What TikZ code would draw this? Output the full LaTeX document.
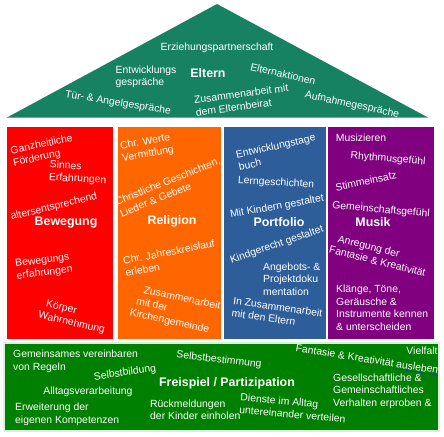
\documentclass[tikz,border=0pt]{standalone}
\usepackage{fontspec}
\setmainfont{Liberation Sans}
\definecolor{roofgreen}{HTML}{178262}
\definecolor{colred}{HTML}{FF0000}
\definecolor{colorange}{HTML}{FF6600}
\definecolor{colblue}{HTML}{2E5E9A}
\definecolor{colpurple}{HTML}{800080}
\definecolor{bargreen}{HTML}{008000}
\definecolor{barline}{HTML}{D9F2D9}
\definecolor{squiggle}{HTML}{1030C0}
\begin{document}
\begin{tikzpicture}[x=1pt,y=-1pt,
  every node/.style={text=white,inner sep=0pt,font=\fontsize{10.4}{12.5}\selectfont},
  title/.style={font=\fontsize{12.4}{14}\selectfont\bfseries},
  ml/.style={align=left}]
\useasboundingbox (0,0) rectangle (444,436);
% shapes
\fill[roofgreen] (217,4) -- (428,117.5) -- (7,117.5) -- cycle;
\fill[colred] (7,127) rectangle (113,339);
\fill[colorange] (118,127) rectangle (221,339);
\fill[colblue] (223.5,127) rectangle (326,339);
\fill[colpurple] (327.5,127) rectangle (434,339);
\fill[bargreen,draw=barline,line width=2pt] (4,343) rectangle (439,431);
% roof
\node (erz) at (217,48) {Erziehungspartnerschaft};
\node[ml] (entw) at (146,77) {Entwicklungs\\gespräche};
\node[title] (eltern) at (208,73) {Eltern};
\node[rotate=-13] (aktion) at (283,74) {Elternaktionen};
\node[rotate=-9] (tuer) at (118,103) {Tür- \& Angelgespräche};
\node[rotate=7.5,ml] (zus) at (242,100) {Zusammenarbeit mit\\dem Elternbeirat};
\node[rotate=-12] (aufn) at (352,105) {Aufnahmegespräche};
% Bewegung
\node[rotate=12,ml] (ganz) at (43,151) {Ganzheitliche\\Förderung};
\node[rotate=-3,ml] (sinn) at (78,173) {Sinnes\\Erfahrungen};
\node[rotate=13.5] (alt) at (54,207) {altersentsprechend};
\node[title] (beweg) at (66,223) {Bewegung};
\node[rotate=7,ml] (bewerf) at (44,267) {Bewegungs\\erfahrungen};
\node[rotate=-13,ml] (koerp) at (73,317) {\hspace*{5pt}Körper\\Wahrnehmung};
% Religion
\node[rotate=10,ml] (werte) at (147,148) {Chr. Werte\\Vermittlung};
\node[rotate=22,ml] (gesch) at (170,187) {Christliche Geschichten,\\Lieder \& Gebete};
\node[title] (relig) at (172,221) {Religion};
\node[rotate=11,ml] (jahr) at (170,258) {Chr. Jahreskreislauf\\erleben};
\node[rotate=-12,ml] (kirche) at (175,310) {\hspace*{9pt}Zusammenarbeit\\\hspace*{4pt}mit der\\Kirchengemeinde};
% Portfolio
\node[rotate=12.7,ml] (etb) at (277,152) {Entwicklungstage\\buch};
\node[rotate=-3] (lern) at (276,183) {Lerngeschichten};
\node[rotate=10] (mitk) at (277,207) {Mit Kindern gestaltet};
\node[title] (portf) at (279,222) {Portfolio};
\node[rotate=19] (kindg) at (277,245) {Kindgerecht gestaltet};
\node[ml,anchor=west] (angeb) at (263,279) {Angebots- \&\\Projektdoku\\mentation};
\node[rotate=-8,ml] (zeltern) at (277,313) {In Zusammenarbeit\\mit den Eltern};
% Musik
\node (musiz) at (361,138) {Musizieren};
\node[rotate=-5] (rhyth) at (388,159) {Rhythmusgefühl};
\node[rotate=12] (stimm) at (366,181) {Stimmeinsatz};
\node[rotate=-5] (gemg) at (381,210) {Gemeinschaftsgefühl};
\node[title] (musik) at (373,222) {Musik};
\node[rotate=-14,ml] (anreg) at (379,255) {\hspace*{6pt}Anregung der\\Fantasie \& Kreativität};
\node[ml,anchor=west] (klang) at (336,308) {Klänge, Töne,\\Geräusche \&\\Instrumente kennen\\\& unterscheiden};
% Freispiel
\node[ml,anchor=west] (gemv) at (13,361.5) {Gemeinsames vereinbaren\\von Regeln};
\node[rotate=8] (selbstb) at (125,373) {Selbstbildung};
\node[rotate=-6.7] (selbstbest) at (219,360) {Selbstbestimmung};
\node[title] (frei) at (227,383) {Freispiel / Partizipation};
\node (alltag) at (88,392) {Alltagsverarbeitung};
\node[ml,anchor=west] (erw) at (15,414.5) {Erweiterung der\\eigenen Kompetenzen};
\node[ml,anchor=west] (rueck) at (150,410) {Rückmeldungen\\der Kinder einholen};
\node[rotate=-5,ml] (dienst) at (293,408) {Dienste im Alltag\\untereinander verteilen};
\node[rotate=-8.8] (fant) at (367,360) {Fantasie \& Kreativität \textcolor{squiggle}{\underline{\textcolor{white}{ausleben}}}};
\node (vielf) at (422,351) {Vielfalt};
\node[ml,anchor=west] (gesell) at (333,391) {Gesellschaftliche \&\\Gemeinschaftliches\\Verhalten erproben \&};
\end{tikzpicture}
\end{document}
